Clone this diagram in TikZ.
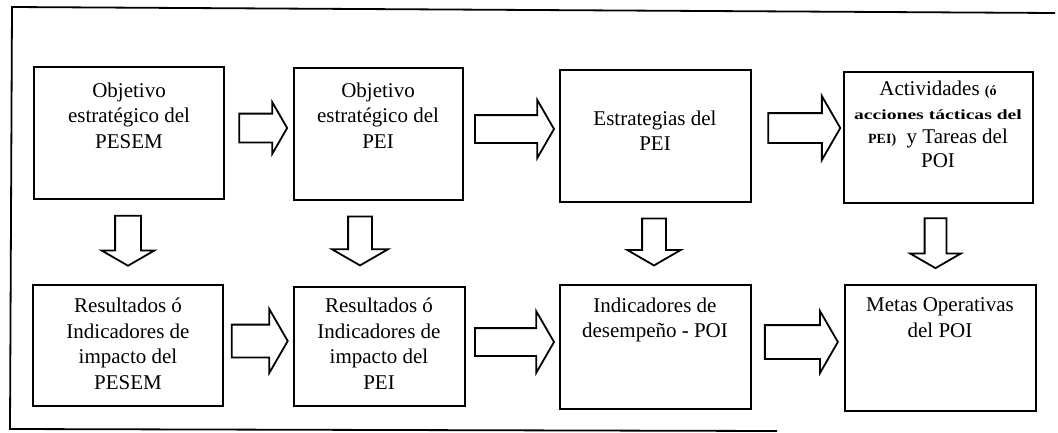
\documentclass[tikz,border=0pt]{standalone}
\usepackage{fontspec}
\usepackage{graphicx}
\setmainfont{Liberation Serif}
\usetikzlibrary{shapes.arrows}
\newcommand{\smtxt}[1]{{\fontsize{14}{16}\selectfont\bfseries #1}}
\begin{document}
\begin{tikzpicture}[x=1pt,y=-1pt,
  box/.style={draw, line width=2pt, inner sep=0pt},
  lbl/.style={align=center, font=\fontsize{21}{25.5}\selectfont, inner sep=0pt, anchor=north},
  frame/.style={line width=1.8pt},
  blk/.style={draw, line width=1.8pt, shape=single arrow, inner xsep=0pt, minimum width=0pt, single arrow tip angle=120},
  % #1 total length, #2 shaft width, #3 head extend beyond shaft
  harr/.style n args={3}{blk, minimum height=#1, inner ysep=#2/2, single arrow head extend=#3},
  varr/.style n args={3}{harr={#1}{#2}{#3}, rotate=-90}
]
\useasboundingbox (0,0) rectangle (1058,432);
% outer frame (open on the right, as in the scan)
\draw[frame] (1055,13) -- (12,7) -- (10,429) -- (777,431);

% boxes
\node[box, minimum width=190pt, minimum height=132pt] (b1) at (129,133) {};
\node[box, minimum width=169pt, minimum height=132pt] (b2) at (378.5,134) {};
\node[box, minimum width=191pt, minimum height=132pt] (b3) at (655.5,136) {};
\node[box, minimum width=189pt, minimum height=131pt] (b4) at (938.5,137.5) {};
\node[box, minimum width=190pt, minimum height=121pt] (b5) at (128,345.5) {};
\node[box, minimum width=171pt, minimum height=119pt] (b6) at (379.5,346.5) {};
\node[box, minimum width=191pt, minimum height=124pt] (b7) at (655.5,347) {};
\node[box, minimum width=191pt, minimum height=126pt] (b8) at (940.5,348) {};

% texts (north = first baseline - 14.3)
\node[lbl] (t1) at (129,82.7) {Objetivo\\estratégico del\\PESEM};
\node[lbl] (t2) at (378,82.7) {Objetivo\\estratégico del\\PEI};
\node[lbl] (t3) at (655,110.7) {Estrategias del\\PEI};
\node[lbl, font=\fontsize{21}{24}\selectfont] (t4) at (938,80.7) {Actividades \smtxt{(ó}\\\scalebox{1.4}[1]{\smtxt{acciones tácticas del}}\\\smtxt{PEI)}\ \ y Tareas del\\POI};
\node[lbl] (t5) at (128,297.7) {Resultados ó\\Indicadores de\\impacto del\\PESEM};
\node[lbl] (t6) at (379,297.7) {Resultados ó\\Indicadores de\\impacto del\\PEI};
\node[lbl] (t7) at (655,297.7) {Indicadores de\\desempeño - POI};
\node[lbl] (t8) at (940,297.7) {Metas Operativas\\del POI};

% block arrows
\node[harr={48pt}{27pt}{11.5pt}] (a1) at (259,128) {};
\node[harr={79pt}{26pt}{15pt}] (a2) at (510.5,129) {};
\node[harr={72pt}{28pt}{17pt}] (a3) at (800,128) {};
\node[harr={56pt}{31pt}{15.5pt}] (a4) at (255,341) {};
\node[harr={79pt}{26pt}{17pt}] (a5) at (510.5,342) {};
\node[harr={73pt}{32pt}{14pt}] (a6) at (796.5,342) {};
\node[varr={50pt}{24pt}{13.5pt}] (d1) at (128,237) {};
\node[varr={49pt}{22pt}{16pt}] (d2) at (360,237.5) {};
\node[varr={47pt}{22pt}{15pt}] (d3) at (654,238.5) {};
\node[varr={50pt}{20pt}{14.5pt}] (d4) at (935.5,240) {};
\end{tikzpicture}
\end{document}
